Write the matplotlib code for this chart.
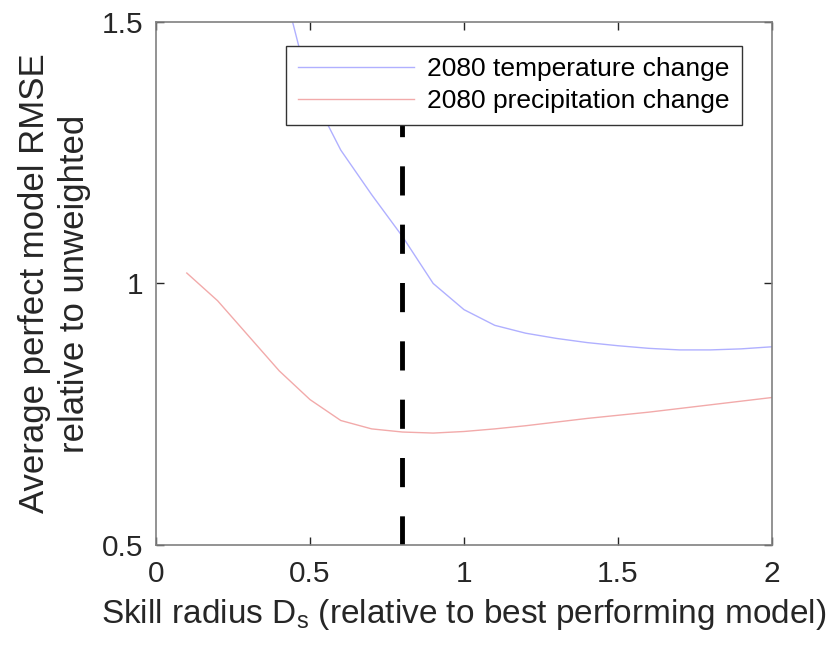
import matplotlib
matplotlib.use('Agg')
import matplotlib.pyplot as plt

plt.rcParams['font.family'] = ['Liberation Sans', 'DejaVu Sans']
plt.rcParams['mathtext.fontset'] = 'custom'
plt.rcParams['mathtext.rm'] = 'Liberation Sans'

# skill radius values
radius = [0.1, 0.2, 0.3, 0.4, 0.5, 0.6, 0.7, 0.8, 0.9, 1.0,
          1.1, 1.2, 1.3, 1.4, 1.5, 1.6, 1.7, 1.8, 1.9, 2.0]

# RMSE relative to unweighted
temp_rmse = [2.6, 2.1, 1.8, 1.6, 1.37, 1.255, 1.17, 1.09, 1.0, 0.95,
             0.92, 0.905, 0.895, 0.887, 0.881, 0.876, 0.873, 0.873, 0.875, 0.879]
precip_rmse = [1.02, 0.967, 0.90, 0.833, 0.778, 0.738, 0.722, 0.716, 0.714, 0.717,
               0.722, 0.728, 0.735, 0.742, 0.748, 0.754, 0.761, 0.768, 0.775, 0.782]

chosen_radius = 0.8

fig = plt.figure(figsize=(8.37, 6.57), dpi=100)
ax = fig.add_axes([0.1864, 0.1705, 0.7359, 0.796])

axcol = '#262626'

ax.plot(radius, temp_rmse, color='#b0b0ff', lw=1.0, label='2080 temperature change')
ax.plot(radius, precip_rmse, color='#f2aaaa', lw=1.0, label='2080 precipitation change')
ax.axvline(chosen_radius, color='black', lw=3.5, dashes=(6, 6))

ax.set_xlim(0, 2)
ax.set_ylim(0.5, 1.5)
ax.set_xticks([0, 0.5, 1, 1.5, 2])
ax.set_xticklabels(['0', '0.5', '1', '1.5', '2'])
ax.set_yticks([0.5, 1, 1.5])
ax.set_yticklabels(['0.5', '1', '1.5'])
ax.tick_params(direction='in', top=True, right=True, length=6, width=1,
               colors=axcol, labelsize=21.5, pad=11)
ax.tick_params(axis='y', pad=9)
for s in ax.spines.values():
    s.set_color('#808080')
    s.set_linewidth(1.2)

ax.set_xlabel(r'Skill radius D$_\mathregular{s}$ (relative to best performing model)',
              fontsize=24, color=axcol, labelpad=6)
ax.set_ylabel('Average perfect model RMSE\nrelative to unweighted',
              fontsize=25, color=axcol, labelpad=8, linespacing=1.25)

leg = ax.legend(loc='upper right', bbox_to_anchor=(0.951, 0.955), fontsize=19,
                fancybox=False, framealpha=1, edgecolor='#333333',
                handlelength=4.4, handletextpad=0.5, borderpad=0.45,
                labelspacing=0.3, borderaxespad=0)
leg.get_frame().set_linewidth(1.0)

plt.savefig('out.png', dpi=100)
